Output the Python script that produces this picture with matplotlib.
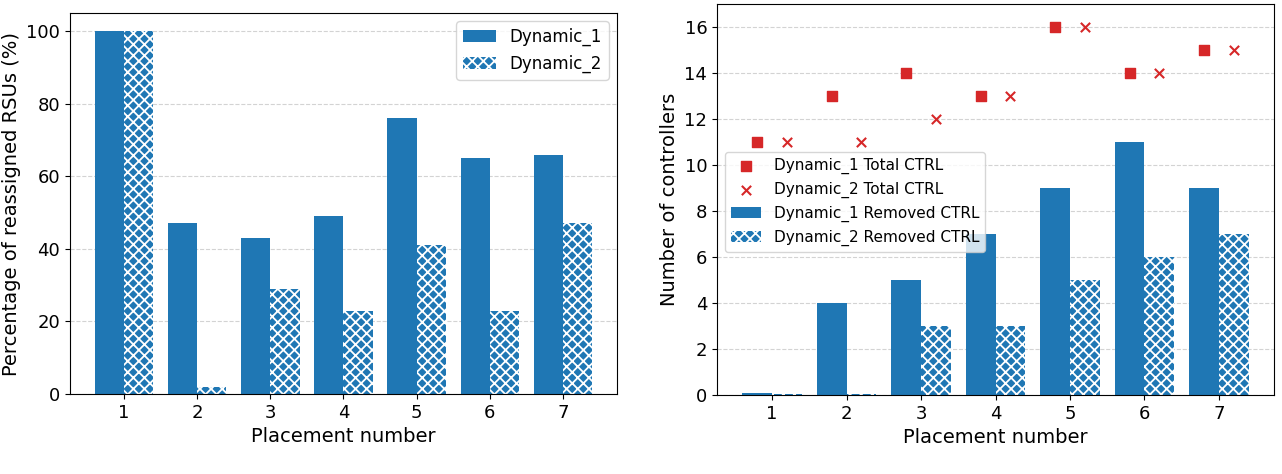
import numpy as np
import matplotlib
matplotlib.use("Agg")
import matplotlib.pyplot as plt

placements = [1, 2, 3, 4, 5, 6, 7]

# left panel: percentage of reassigned RSUs
reassigned_dyn1 = [100, 47, 43, 49, 76, 65, 66]
reassigned_dyn2 = [100, 2, 29, 23, 41, 23, 47]

# right panel: controllers
removed_dyn1 = [0.1, 4, 5, 7, 9, 11, 9]
removed_dyn2 = [0.05, 0.05, 3, 3, 5, 6, 7]
total_dyn1 = [11, 13, 14, 13, 16, 14, 15]
total_dyn2 = [11, 11, 12, 13, 16, 14, 15]

blue = '#1f77b4'
red = '#d62728'
plt.rcParams['hatch.color'] = 'white'
plt.rcParams['hatch.linewidth'] = 1.3

fig = plt.figure(figsize=(12.82, 4.74), dpi=100)
W, H = 1282, 474
ax1 = fig.add_axes([70 / W, 80 / H, 547 / W, 381 / H])
ax2 = fig.add_axes([717 / W, 79 / H, 557 / W, 391 / H])

x = np.array(placements)
w = 0.4

ax1.bar(x, reassigned_dyn1, width=-w, align='edge', color=blue, label='Dynamic_1', zorder=2)
ax1.bar(x, reassigned_dyn2, width=w, align='edge', color=blue, hatch='xxx',
        edgecolor='white', linewidth=0, label='Dynamic_2', zorder=2)
ax1.set_ylim(0, 105)
ax1.set_xticks(placements)
ax1.set_xlabel('Placement number', fontsize=14)
ax1.set_ylabel('Percentage of reassigned RSUs (%)', fontsize=14)
ax1.grid(axis='y', linestyle='--', color='lightgray', zorder=0)
ax1.legend(loc='upper right', fontsize=12)

ax2.scatter(x - w / 2, total_dyn1, marker='s', color=red, s=45, label='Dynamic_1 Total CTRL', zorder=3)
ax2.scatter(x + w / 2, total_dyn2, marker='x', color=red, s=45, label='Dynamic_2 Total CTRL', zorder=3)
ax2.bar(x, removed_dyn1, width=-w, align='edge', color=blue, label='Dynamic_1 Removed CTRL', zorder=2)
ax2.bar(x, removed_dyn2, width=w, align='edge', color=blue, hatch='xxx',
        edgecolor='white', linewidth=0, label='Dynamic_2 Removed CTRL', zorder=2)
ax2.set_ylim(0, 17)
ax2.set_yticks(range(0, 17, 2))
ax2.set_xticks(placements)
ax2.set_xlabel('Placement number', fontsize=14)
ax2.set_ylabel('Number of controllers', fontsize=14)
ax2.grid(axis='y', linestyle='--', color='lightgray', zorder=0)
h, l = ax2.get_legend_handles_labels()
sc = [i for i, t in enumerate(l) if 'Total' in t]
br = [i for i, t in enumerate(l) if 'Removed' in t]
order = sorted(sc, key=lambda i: l[i]) + sorted(br, key=lambda i: l[i])
ax2.legend([h[i] for i in order], [l[i] for i in order], loc='upper left',
           bbox_to_anchor=(0.0, 0.641), fontsize=11)

for ax in (ax1, ax2):
    ax.tick_params(labelsize=13)

fig.savefig('out.png', dpi=100)
